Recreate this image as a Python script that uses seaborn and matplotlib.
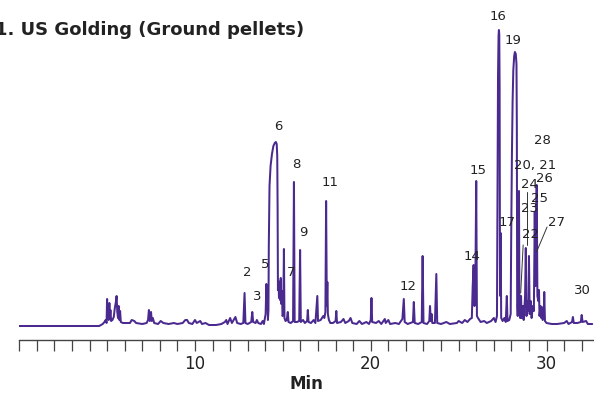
import matplotlib
matplotlib.use("Agg")
import matplotlib.pyplot as plt
from matplotlib.ticker import MultipleLocator, FixedLocator
import seaborn as sns
import pandas as pd

# ---- data (minutes, detector signal) ----
trace_minutes = [
    0.0, 4.55, 4.65, 4.75, 4.85, 4.92, 4.97, 5.0, 5.03, 5.06, 5.09, 5.13, 5.16, 5.19, 5.23,
    5.3, 5.38, 5.44, 5.5, 5.54, 5.58, 5.62, 5.66, 5.7, 5.74, 5.78, 5.9, 6.1, 6.3, 6.4, 6.55,
    6.65, 7.0, 7.25, 7.33, 7.38, 7.43, 7.5, 7.54, 7.6, 7.68, 7.9, 8.05, 8.2, 8.5, 8.8, 9.0,
    9.3, 9.45, 9.55, 9.65, 9.85, 10.0, 10.1, 10.3, 10.4, 10.6, 10.8, 11.2, 11.5, 11.7, 11.78,
    11.85, 12.0, 12.1, 12.3, 12.4, 12.6, 12.75, 12.82, 12.87, 13.0, 13.2, 13.26, 13.31, 13.45,
    13.52, 13.6, 13.75, 13.85, 13.92, 14.02, 14.06, 14.09, 14.12, 14.15,
    14.18, 14.2, 14.24, 14.3, 14.38, 14.46, 14.54, 14.6, 14.65, 14.68, 14.7, 14.72, 14.75,
    14.78, 14.81, 14.84, 14.88, 14.91, 14.95, 14.98, 15.02, 15.06, 15.09, 15.15, 15.22, 15.28,
    15.32, 15.45, 15.58, 15.63, 15.67, 15.8, 15.93, 15.98, 16.02, 16.15, 16.25, 16.38, 16.42,
    16.46, 16.6, 16.75, 16.85, 16.96, 17.0, 17.15, 17.3, 17.36, 17.42, 17.46, 17.5, 17.53,
    17.56, 17.62, 17.7, 17.85, 18.0, 18.04, 18.08, 18.3, 18.45, 18.55, 18.75, 18.85, 18.95,
    19.2, 19.35, 19.5, 19.75, 19.9, 20.0, 20.04, 20.08, 20.3, 20.45, 20.6, 20.8, 20.85, 21.0,
    21.1, 21.4, 21.6, 21.8, 21.88, 21.93, 22.1, 22.4, 22.45, 22.5, 22.7, 22.9, 22.95, 23.0,
    23.2, 23.33, 23.37, 23.42, 23.46, 23.5, 23.65, 23.73, 23.78, 24.0, 24.3, 24.5, 24.9, 25.0,
    25.2, 25.35, 25.5, 25.65, 25.75, 25.8, 25.85, 25.9, 25.95, 26.0, 26.04, 26.1, 26.25, 26.45,
    26.6, 26.85, 27.0, 27.1,
    27.18, 27.21, 27.24, 27.27, 27.29, 27.31, 27.33, 27.35, 27.37, 27.39, 27.42, 27.5, 27.6,
    27.68, 27.74, 27.78, 27.88,
    27.96, 27.99, 28.03, 28.07, 28.11, 28.16, 28.2, 28.25, 28.29, 28.31, 28.33, 28.36, 28.4,
    28.43, 28.46, 28.5, 28.55, 28.58, 28.65, 28.7, 28.78, 28.82, 28.86, 28.92, 28.97, 29.0,
    29.04, 29.1, 29.15, 29.22, 29.28, 29.33, 29.37, 29.41, 29.44, 29.48, 29.53, 29.57, 29.6,
    29.66, 29.7, 29.73, 29.78, 29.84, 29.87, 29.91, 30.0, 30.3, 30.6, 31.0, 31.15, 31.25,
    31.45, 31.5, 31.55, 31.75, 31.95, 32.0, 32.05, 32.25, 32.35, 32.6,
]
trace_signal = [
    0, 0, 1, 2, 4, 6, 3, 27, 8, 22, 6, 23, 9, 16, 5,
    6, 9, 18, 24, 30, 14, 8, 20, 6, 15, 4, 3, 3, 3, 6, 5,
    3, 2, 3, 6, 16, 5, 14, 5, 8, 3, 2, 5, 3, 2, 3, 2,
    3, 6, 6, 3, 2, 6, 3, 5, 2, 3, 1, 1, 2, 4, 6,
    2, 8, 3, 9, 3, 2, 3, 33, 3, 2, 4, 14, 4, 3,
    6, 3, 2, 5, 2, 12, 42, 20, 36, 6,
    16, 80, 140, 160, 172, 180, 183, 184, 182, 170, 120, 36, 45,
    28, 40, 26, 48, 22, 35, 10, 12, 77, 8, 5, 6, 14,
    4, 3, 5, 144, 4, 4, 5, 76, 4, 6, 3, 5, 16,
    4, 3, 6, 3, 30, 5, 6, 10, 8, 14, 125, 20, 44,
    12, 6, 3, 3, 5, 15, 3, 4, 7, 3, 5, 8, 3,
    2, 5, 2, 4, 2, 6, 28, 4, 3, 5, 2, 7, 3, 6,
    2, 3, 2, 7, 27, 4, 2, 4, 24, 3, 2, 4, 70, 3,
    2, 5, 20, 5, 12, 3, 3, 52, 3, 2, 4, 2, 3, 5,
    3, 6, 4, 7, 8, 40, 61, 20, 40, 145, 10, 8, 4, 5,
    3, 5, 8, 4,
    10, 120, 250, 290, 296, 292, 240, 60, 30, 93, 8, 5, 8,
    4, 30, 5, 6,
    12, 90, 170, 225, 256, 270, 274, 272, 262, 200, 20, 10, 40,
    135, 15, 8, 30, 8, 20, 6, 30, 78, 10, 25, 15, 70,
    12, 25, 8, 20, 15, 114, 40, 100, 141, 30, 25, 36, 10,
    20, 8, 19, 6, 10, 34, 5, 3, 2, 2, 3, 5, 2,
    4, 9, 3, 3, 4, 11, 4, 5, 2, 2,
]

peak_numbers = ["2", "3", "5", "6", "7", "8", "9", "11", "12", "14", "15", "16", "17",
                "19", "20, 21", "22", "23", "24", "25", "26", "27", "28", "30"]
peak_label_min = [12.96, 13.53, 13.98, 14.72, 15.46, 15.75, 16.14, 17.68, 22.12, 25.76,
                  26.1, 27.24, 27.78, 28.07, 29.34, 29.08, 29.05, 29.05, 29.6, 29.88,
                  30.59, 29.76, 32.05]
peak_label_sig = [54, 29, 61, 200, 53, 162, 94, 143, 39, 70, 156, 309, 104, 286, 160,
                  92, 117, 142, 128, 147, 104, 185, 35]
tick_minutes = [10, 20, 30]

title = "1. US Golding (Ground pellets)"
x_label = "Min"

# ---- drawing ----
sns.set_theme(style="white")
plt.rcParams["font.family"] = ["DejaVu Sans"]

W, H = 594, 394
fig = plt.figure(figsize=(W / 100, H / 100), dpi=100)
ax = fig.add_axes([19.2 / W, (H - 340) / H, 574.8 / W, 340 / H])

line_color = "#4B2A8F"
df = pd.DataFrame({"minutes": trace_minutes, "signal": trace_signal})
sns.lineplot(data=df, x="minutes", y="signal", sort=False, estimator=None,
             color=line_color, linewidth=1.45, ax=ax)

ax.set_xlim(0, 32.7)
ax.set_ylim(-14, 326)

for side in ["top", "right", "left"]:
    ax.spines[side].set_visible(False)
ax.spines["bottom"].set_color("#444444")
ax.spines["bottom"].set_linewidth(1.0)
ax.set_yticks([])
ax.xaxis.set_major_locator(FixedLocator(tick_minutes))
ax.xaxis.set_minor_locator(MultipleLocator(1))
ax.tick_params(axis="x", which="both", direction="out", length=8, width=0.9,
               color="#444444", bottom=True)
ax.tick_params(axis="x", which="major", labelsize=12, labelcolor="#222222", pad=2.5)
ax.set_xlabel(x_label, fontsize=12, fontweight="bold", color="#222222", labelpad=1.5)
ax.set_ylabel("")

for txt, xm, ys in zip(peak_numbers, peak_label_min, peak_label_sig):
    ax.text(xm, ys, txt, ha="center", va="center", fontsize=9.5, color="#222222")

# leader lines
lc = "#333333"
ax.plot([28.91, 28.91], [134, 81], color=lc, lw=0.7)
ax.plot([28.67, 28.53], [81, 33], color=lc, lw=0.7)
ax.plot([30.03, 29.43], [99, 74], color=lc, lw=0.7)

fig.text(304 / W, (H - 30) / H, title, ha="right", va="center", fontsize=13,
         fontweight="bold", color="#222222")

fig.savefig("out.png", dpi=100)
